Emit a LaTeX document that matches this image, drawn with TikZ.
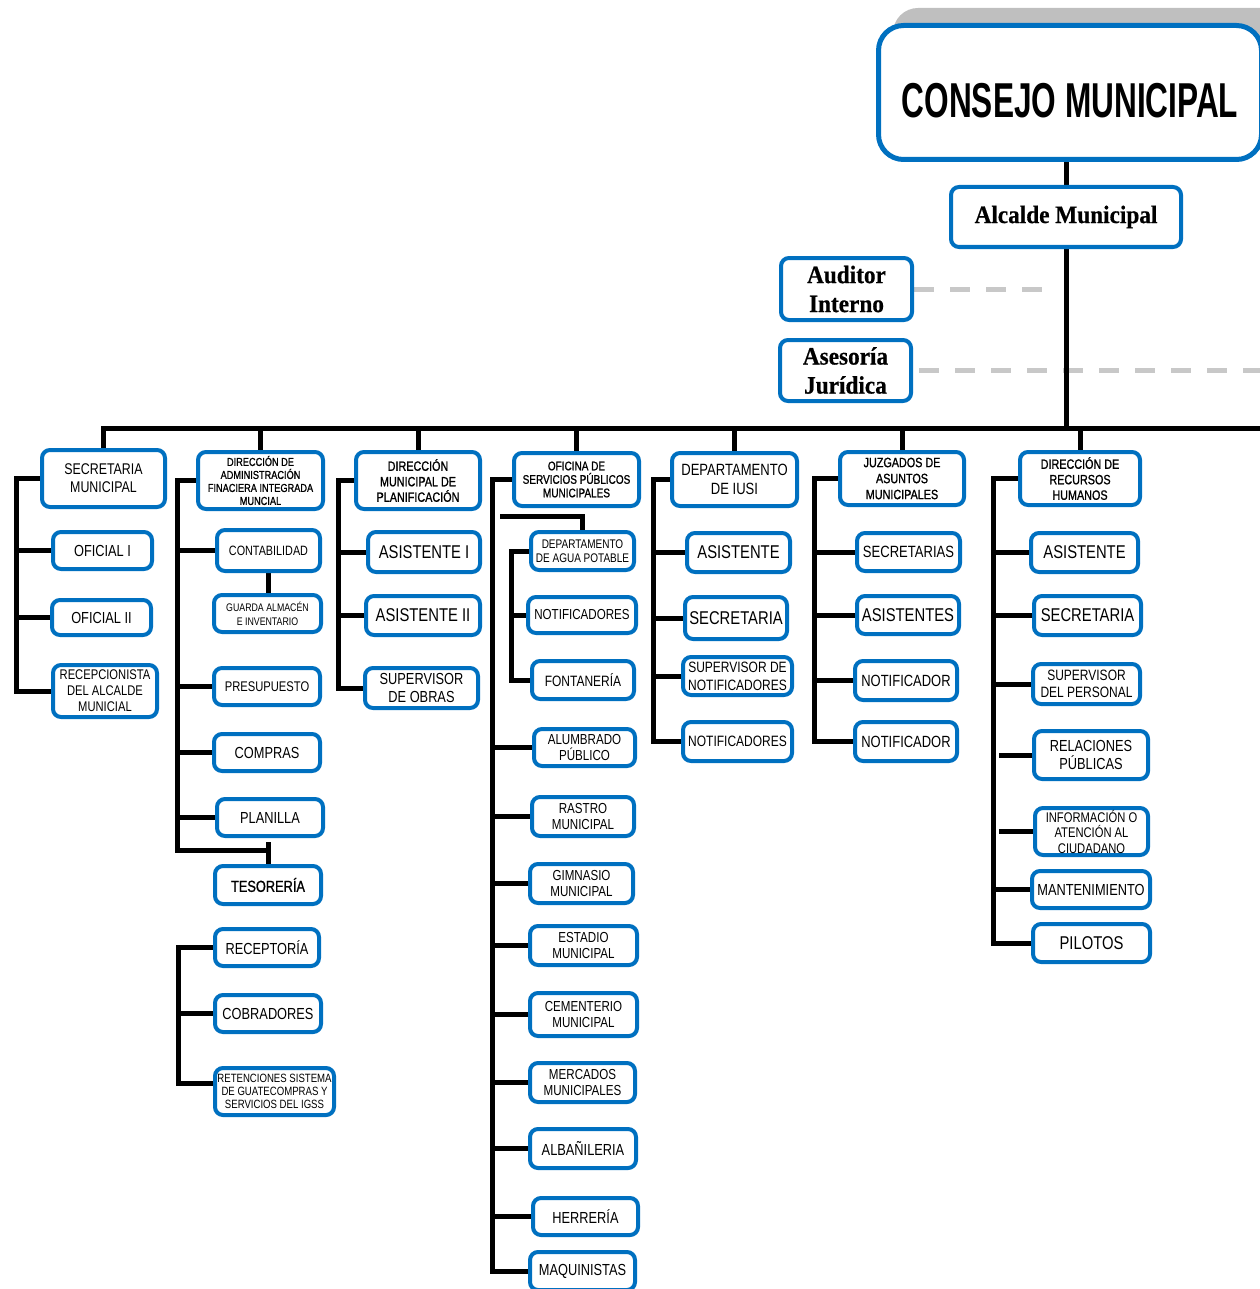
\documentclass[tikz,border=0pt]{standalone}
\usepackage{fontspec}
\setmainfont{Liberation Sans}
\newfontfamily\bxf[FakeStretch=0.8]{Liberation Sans}
\newfontfamily\bxh[FakeStretch=0.8,FakeBold=1]{Liberation Sans}
\newfontfamily\cnf[FakeStretch=0.645]{Liberation Sans}
\newfontfamily\srf[FakeStretch=0.93,FakeBold=0.6]{Liberation Serif}
\definecolor{bxblue}{HTML}{0070C0}
\definecolor{shgray}{HTML}{BFBFBF}
\definecolor{dshgray}{HTML}{C8C8C8}
\pgfdeclarelayer{linelayer}
\pgfsetlayers{linelayer,main}
\tikzset{
  bx/.style={draw=bxblue, line width=4pt, rounded corners=8pt, fill=white, align=center, inner sep=1pt, text=black},
  con/.style={draw=black, line width=5pt, line join=miter},
  dsh/.style={draw=dshgray, line width=5pt, dash pattern=on 20pt off 16pt},
}
\newcommand\ob[8]{\node[bx, font={\bxf\fontsize{#6}{#7}\selectfont}, minimum width={#4-#2-4}, minimum height={#5-#3-4}] (#1) at ({(#2+#4)/2},{(#3+#5)/2}) {#8};}
\newcommand\obh[8]{\node[bx, font={\bxh\fontsize{#6}{#7}\selectfont}, minimum width={#4-#2-4}, minimum height={#5-#3-4}] (#1) at ({(#2+#4)/2},{(#3+#5)/2}) {#8};}
\begin{document}
\begin{tikzpicture}[x=1pt,y=-1pt]
\useasboundingbox (0,0) rectangle (1259,1289);
% top
\fill[shgray, rounded corners=25pt] (893,8) rectangle (1300,150);
\node[bx, line width=5pt, rounded corners=25pt, minimum width=383, minimum height=134, text height=50pt, font={\cnf\bfseries\fontsize{49}{50}\selectfont}] (cons) at (1070,92.5) {CONSEJO MUNICIPAL};
\node[bx, minimum width=230, minimum height=60, font={\srf\bfseries\fontsize{25}{28}\selectfont}] (alc) at (1066,217) {Alcalde Municipal};
\node[bx, minimum width=131, minimum height=62, font={\srf\bfseries\fontsize{25}{29}\selectfont}] (aud) at (846.5,289) {Auditor\\Interno};
\node[bx, minimum width=131, minimum height=61, font={\srf\bfseries\fontsize{25}{29}\selectfont}] (ase) at (845.5,370.5) {Asesoría\\Jurídica};
% level 1
\ob{sec}{40}{448}{167}{509}{15.5}{18}{SECRETARIA\\MUNICIPAL}
\obh{adm}{196}{450}{325}{511}{11.5}{13}{DIRECCIÓN DE\\ADMINISTRACIÓN\\FINACIERA INTEGRADA\\MUNCIAL}
\obh{pla}{354}{450}{482}{511}{13.5}{15.5}{DIRECCIÓN\\MUNICIPAL DE\\PLANIFICACIÓN}
\obh{ofi}{512}{451}{641}{508}{12.5}{13.5}{OFICINA DE\\SERVICIOS PÚBLICOS\\MUNICIPALES}
\ob{ius}{670}{451}{799}{508}{16.3}{19}{DEPARTAMENTO\\DE IUSI}
\obh{juz}{838}{450}{966}{507}{13.5}{16}{JUZGADOS DE\\ASUNTOS\\MUNICIPALES}
\obh{rrh}{1018}{450}{1142}{507}{13.5}{15.5}{DIRECCIÓN DE\\RECURSOS\\HUMANOS}
% secretaria
\ob{of1}{51}{530}{154}{571}{16}{18}{OFICIAL I}
\ob{of2}{50}{598}{153}{637}{16}{18}{OFICIAL II}
\ob{rec}{51}{663}{159}{719}{14}{16}{RECEPCIONISTA\\DEL ALCALDE\\MUNICIAL}
% administracion
\ob{cnt}{215}{528}{322}{573}{13.5}{16}{CONTABILIDAD}
\ob{gua}{212}{593}{323}{634}{11}{14}{GUARDA ALMACÉN\\E INVENTARIO}
\ob{pre}{212}{666}{322}{707}{14}{16}{PRESUPUESTO}
\ob{cmp}{212}{732}{322}{773}{16}{18}{COMPRAS}
\ob{pln}{215}{797}{325}{838}{16}{18}{PLANILLA}
\obh{tes}{213}{864}{323}{906}{16}{18}{TESORERÍA}
\ob{rcp}{213}{927}{321}{968}{16}{18}{RECEPTORÍA}
\ob{cob}{213}{993}{323}{1034}{16}{18}{COBRADORES}
\ob{ret}{213}{1066}{336}{1117}{12}{13}{RETENCIONES SISTEMA\\DE GUATECOMPRAS Y\\SERVICIOS DEL IGSS}
% planificacion
\ob{as1}{366}{530}{482}{574}{18.5}{20}{ASISTENTE I}
\ob{as2}{364}{594}{482}{637}{18.5}{20}{ASISTENTE II}
\ob{sob}{363}{666}{480}{710}{16}{18}{SUPERVISOR\\DE OBRAS}
% oficina
\ob{agu}{529}{530}{636}{572}{12.5}{14}{DEPARTAMENTO\\DE AGUA POTABLE}
\ob{nt1}{526}{595}{638}{635}{14.5}{16}{NOTIFICADORES}
\ob{fon}{530}{659}{636}{701}{15}{17}{FONTANERÍA}
\ob{alu}{532}{727}{637}{768}{14.5}{17}{ALUMBRADO\\PÚBLICO}
\ob{ras}{530}{795}{636}{838}{14.5}{16.5}{RASTRO\\MUNICIPAL}
\ob{gim}{528}{862}{635}{905}{14.5}{16.5}{GIMNASIO\\MUNICIPAL}
\ob{est}{528}{924}{639}{967}{14.5}{16.5}{ESTADIO\\MUNICIPAL}
\ob{cem}{528}{991}{639}{1038}{14.5}{16.5}{CEMENTERIO\\MUNICIPAL}
\ob{mer}{528}{1061}{637}{1104}{14.5}{16.5}{MERCADOS\\MUNICIPALES}
\ob{alb}{528}{1127}{638}{1170}{16}{18}{ALBAÑILERIA}
\ob{her}{531}{1196}{640}{1237}{16}{18}{HERRERÍA}
\ob{maq}{528}{1250}{637}{1292}{16}{18}{MAQUINISTAS}
% iusi
\ob{ia}{685}{531}{792}{574}{18.5}{20}{ASISTENTE}
\ob{is}{683}{595}{789}{641}{18.5}{20}{SECRETARIA}
\ob{isn}{681}{655}{794}{697}{15}{18}{SUPERVISOR DE\\NOTIFICADORES}
\ob{in}{681}{720}{794}{763}{15}{17}{NOTIFICADORES}
% juzgados
\ob{js}{855}{531}{962}{573}{16.3}{18}{SECRETARIAS}
\ob{ja}{855}{594}{961}{636}{18.5}{20}{ASISTENTES}
\ob{jn1}{853}{659}{959}{702}{16.2}{18}{NOTIFICADOR}
\ob{jn2}{853}{720}{959}{763}{16.2}{18}{NOTIFICADOR}
% rrhh
\ob{ra}{1029}{531}{1140}{574}{18.5}{20}{ASISTENTE}
\ob{rs}{1032}{594}{1143}{637}{18.5}{20}{SECRETARIA}
\ob{rsp}{1031}{662}{1142}{706}{15}{17}{SUPERVISOR\\DEL PERSONAL}
\ob{rrp}{1032}{729}{1150}{781}{16}{18}{RELACIONES\\PÚBLICAS}
\ob{rin}{1033}{806}{1150}{857}{14}{15.5}{INFORMACIÓN O\\ATENCIÓN AL\\CIUDADANO}
\ob{rma}{1030}{869}{1152}{910}{16}{18}{MANTENIMIENTO}
\ob{rpi}{1031}{922}{1152}{964}{18.5}{20}{PILOTOS}
% coordinates
\coordinate (busL) at (100,428);
\coordinate (busR) at (1265,428);
\coordinate (dA) at (1043,291);
\coordinate (dB) at (1265,372);
\coordinate (vS) at (16,0);
\coordinate (vA) at (177,0);
\coordinate (tb) at (0,850);
\coordinate (tT) at (0,842);
\coordinate (vT) at (178,0);
\coordinate (vP) at (338,0);
\coordinate (vO) at (492,0);
\coordinate (vO2) at (511,0);
\coordinate (oa) at (500,516);
\coordinate (vI) at (653,0);
\coordinate (vJ) at (814,0);
\coordinate (vR) at (993,0);
\coordinate (vR2) at (999,0);
\begin{pgfonlayer}{linelayer}
\draw[dsh] (aud.east) -- (aud.east -| dA);
\draw[dsh] ([xshift=6pt]ase.east) -- (ase.east -| dB);
\draw[con] (alc.north |- cons.south) -- (alc.north);
\draw[con] (alc.south) -- (alc.south |- busL);
\draw[con] (sec.north) |- (busR);
\foreach \n in {adm,pla,ofi,ius,juz,rrh} {\draw[con] (\n.north) -- (\n.north |- busL);}
% secretaria
\draw[con] (sec.west) -- (sec.west -| vS) |- (rec.west);
\foreach \n in {of1,of2} {\draw[con] (\n.west) -- (\n.west -| vS);}
% administracion
\draw[con] (adm.west) -- (adm.west -| vA) |- (tes.north |- tb);
\draw[con] (tes.north |- tT) -- (tes.north);
\foreach \n in {cnt,pre,cmp,pln} {\draw[con] (\n.west) -- (\n.west -| vA);}
\draw[con] (cnt.south) -- (cnt.south |- gua.north);
\draw[con] (rcp.west) -- (rcp.west -| vT) |- ([yshift=8pt]ret.west);
\draw[con] (cob.west) -- (cob.west -| vT);
% planificacion
\draw[con] (pla.west) -- (pla.west -| vP) |- (sob.west);
\foreach \n in {as1,as2} {\draw[con] (\n.west) -- (\n.west -| vP);}
% oficina
\draw[con] (ofi.west) -- (ofi.west -| vO) |- (maq.west);
\foreach \n in {alu,ras,gim,est,cem,mer,alb,her} {\draw[con] (\n.west) -- (\n.west -| vO);}
\draw[con] (oa) -| (agu.north);
\draw[con] (agu.west) -- (agu.west -| vO2) |- (fon.west);
\draw[con] (nt1.west) -- (nt1.west -| vO2);
% iusi
\draw[con] (ius.west) -- (ius.west -| vI) |- (in.west);
\foreach \n in {ia,is,isn} {\draw[con] (\n.west) -- (\n.west -| vI);}
% juzgados
\draw[con] (juz.west) -- (juz.west -| vJ) |- (jn2.west);
\foreach \n in {js,ja,jn1} {\draw[con] (\n.west) -- (\n.west -| vJ);}
% rrhh
\draw[con] (rrh.west) -- (rrh.west -| vR) |- (rpi.west);
\foreach \n in {ra,rs,rsp,rma} {\draw[con] (\n.west) -- (\n.west -| vR);}
\foreach \n in {rrp,rin} {\draw[con] (\n.west) -- (\n.west -| vR2);}
\end{pgfonlayer}
\end{tikzpicture}
\end{document}
